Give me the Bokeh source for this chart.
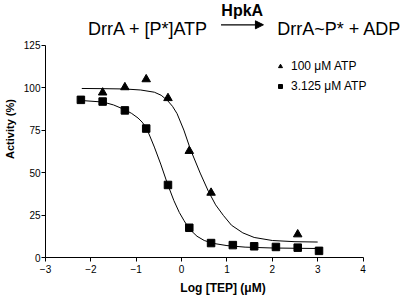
from bokeh.plotting import figure
from bokeh.models import (Legend, LegendItem, Label, Arrow, NormalHead,
                          FixedTicker)
from bokeh.embed import file_html
from bokeh.resources import INLINE

# ---- data ----
atp100_logtep = [-1.74, -1.25, -0.78, -0.30, 0.17, 0.65, 2.56]
atp100_activity = [97.1, 100.2, 104.9, 93.8, 62.7, 38.1, 13.6]

atp3_logtep = [-2.22, -1.74, -1.25, -0.78, -0.30, 0.17, 0.65, 1.13, 1.60, 2.08, 2.56, 3.03]
atp3_activity = [92.8, 91.8, 86.6, 75.9, 42.7, 17.5, 8.5, 7.3, 6.6, 6.2, 5.8, 3.9]

# fitted curves
fit100_x = [-2.2, -1.75, -1.25, -0.9, -0.6, -0.45, -0.31, -0.2, -0.1, 0.05, 0.2,
            0.41, 0.59, 0.75, 0.92, 1.1, 1.35, 1.6, 2.0, 2.5, 3.0]
fit100_y = [99.5, 99.4, 99.2, 98.6, 97.3, 95.5, 92.4, 89.0, 84.7, 75.0, 63.3,
            49.7, 39.0, 31.0, 24.8, 19.0, 14.5, 11.8, 10.0, 9.3, 9.1]

fit3_x = [-2.2, -1.73, -1.5, -1.25, -1.1, -0.96, -0.87, -0.78, -0.7, -0.6, -0.46,
          -0.31, -0.17, -0.05, 0.05, 0.16, 0.34, 0.5, 0.7, 1.0, 1.4, 2.0, 2.6, 3.0]
fit3_y = [92.4, 91.5, 89.8, 87.0, 84.8, 82.1, 79.7, 76.5, 71.5, 65.0, 55.0,
          43.3, 33.5, 26.5, 21.9, 17.1, 12.5, 10.0, 8.3, 7.0, 6.1, 5.6, 5.4, 5.3]

x_ticks = [-3, -2, -1, 0, 1, 2, 3, 4]
y_ticks = [0, 25, 50, 75, 100, 125]
legend_labels = ["100 \u03bcM ATP", "3.125 \u03bcM ATP"]

FONT = "Liberation Sans"

# frame: left edge at 40 px, bottom at 259 px; 46 px per log unit, 1.712 px per %
PX_X = 46.0
PX_Y = 214.0 / 125.0
FRAME_W = 360
FRAME_H = 259

p = figure(width=400, height=297, output_backend="svg", toolbar_location=None,
           x_range=(-3, -3 + FRAME_W / PX_X), y_range=(0, FRAME_H / PX_Y),
           min_border_left=40, min_border_right=0, min_border_top=0,
           min_border_bottom=38)
p.outline_line_color = None
p.grid.visible = False
p.background_fill_color = "white"
p.border_fill_color = "white"

for ax in (p.xaxis[0], p.yaxis[0]):
    ax.major_tick_in = 0
    ax.major_tick_out = 4
    ax.minor_tick_line_color = None
    ax.axis_line_color = "black"
    ax.major_tick_line_color = "black"
    ax.major_label_text_font = FONT
    ax.major_label_text_font_size = "10px"
    ax.major_label_text_color = "black"
    ax.axis_label_text_font = FONT
    ax.axis_label_text_font_style = "bold"
    ax.axis_label_text_color = "black"

p.xaxis.ticker = FixedTicker(ticks=x_ticks)
p.yaxis.ticker = FixedTicker(ticks=y_ticks)
p.xaxis.bounds = (x_ticks[0], x_ticks[-1])
p.yaxis.bounds = (y_ticks[0], y_ticks[-1])
p.xaxis.major_label_standoff = 3
p.yaxis.major_label_standoff = 1
p.xaxis.axis_label = "Log [TEP] (\u03bcM)"
p.yaxis.axis_label = "Activity (%)"
p.xaxis.axis_label_text_font_size = "12px"
p.yaxis.axis_label_text_font_size = "11px"
p.xaxis.axis_label_standoff = 5
p.yaxis.axis_label_standoff = 5

p.line(fit100_x, fit100_y, line_color="black", line_width=1)
p.line(fit3_x, fit3_y, line_color="black", line_width=1)

tri = p.scatter(atp100_logtep, atp100_activity, marker="triangle", size=8.5,
                fill_color="black", line_color="black")
sq = p.scatter(atp3_logtep, atp3_activity, marker="square", size=7.5,
               fill_color="black", line_color="black")

legend = Legend(items=[LegendItem(label=legend_labels[0], renderers=[tri]),
                       LegendItem(label=legend_labels[1], renderers=[sq])],
                location=(230, 161), padding=0, margin=0, spacing=0,
                glyph_width=10, glyph_height=20, label_height=20,
                label_standoff=6, label_text_font=FONT,
                label_text_font_size="12px", label_text_color="black",
                border_line_color=None, background_fill_alpha=0)
p.add_layout(legend, "center")

# helpers to place reaction scheme text (pixel -> data)
def fx(px):
    return -3 + (px - 40) / PX_X

def fy(py):
    return (259.0 - py) / PX_Y

p.add_layout(Label(x=fx(83), y=fy(28.5), text="DrrA + [P*]ATP",
                   text_font=FONT, text_font_size="18px", text_color="black",
                   text_baseline="alphabetic", text_align="left"))
p.add_layout(Label(x=fx(275), y=fy(28.5), text="DrrA~P* + ADP",
                   text_font=FONT, text_font_size="18px", text_color="black",
                   text_baseline="alphabetic", text_align="left"))
p.add_layout(Label(x=fx(239.5), y=fy(10.5), text="HpkA",
                   text_font=FONT, text_font_size="16px", text_font_style="bold",
                   text_color="black", text_baseline="alphabetic", text_align="center"))
p.add_layout(Arrow(x_start=fx(218), y_start=fy(24.5), x_end=fx(261), y_end=fy(24.5),
                   line_color="black", line_width=1.3,
                   end=NormalHead(size=8, fill_color="black", line_color="black")))

open("out.html", "w").write(file_html(p, INLINE))
